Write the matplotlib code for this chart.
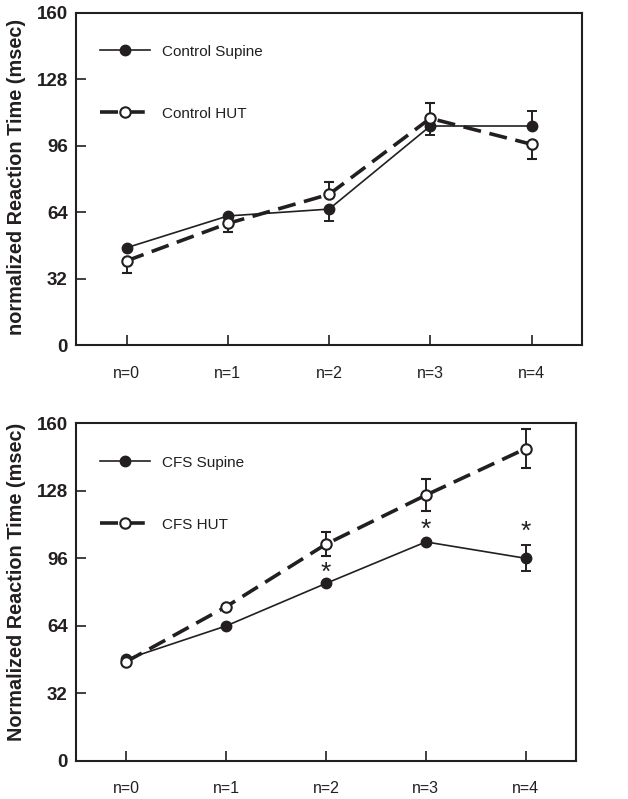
import matplotlib
matplotlib.use('Agg')
import matplotlib.pyplot as plt
from matplotlib.lines import Line2D
import numpy as np

plt.rcParams['font.family'] = ['Liberation Sans', 'DejaVu Sans']

labels = ['n=0', 'n=1', 'n=2', 'n=3', 'n=4']
yticks = [0, 32, 64, 96, 128, 160]

# top panel: control group
ctrl_supine = [46.9, 62.2, 65.5, 105.5, 105.5]
ctrl_supine_lo = [0, 0, 5.6, 4.3, 0]
ctrl_supine_hi = [0, 0, 0, 0, 7.3]
ctrl_hut = [40.6, 58.6, 72.6, 109.2, 96.7]
ctrl_hut_lo = [6.0, 4.0, 0, 0, 7.1]
ctrl_hut_hi = [0, 0, 6.0, 7.3, 0]

# bottom panel: CFS group
cfs_supine = [48.1, 63.9, 84.1, 103.8, 96.0]
cfs_supine_lo = [0, 0, 0, 0, 6.1]
cfs_supine_hi = [0, 0, 0, 0, 6.1]
cfs_hut = [46.9, 73.0, 102.7, 126.0, 148.1]
cfs_hut_lo = [0, 0, 5.7, 7.6, 9.2]
cfs_hut_hi = [0, 0, 5.7, 7.6, 9.2]
star_idx = [2, 3, 4]
star_y = [89.0, 109.6, 108.5]

ink = '#231f20'
x = np.arange(len(labels))

sup_style = dict(color=ink, lw=1.2, marker='o', ms=7.5, mfc=ink, mec=ink)
hut_style = dict(color=ink, lw=2.6, marker='o', ms=7.5, mfc='white', mec=ink,
                 mew=1.5, dashes=(5, 2.4))

fig = plt.figure(figsize=(6.28, 7.99), dpi=100)
ax1 = fig.add_axes([0.121, 0.568, 0.806, 0.416])
ax2 = fig.add_axes([0.121, 0.048, 0.796, 0.422])


def draw(ax, sup, sup_lo, sup_hi, hut, hut_lo, hut_hi, names, ylab, ylab_pos):
    ax.errorbar(x, sup, yerr=[sup_lo, sup_hi], capsize=3.5, elinewidth=1.4,
                capthick=1.4, zorder=3, **sup_style)
    ax.errorbar(x, hut, yerr=[hut_lo, hut_hi], capsize=3.5, elinewidth=1.4,
                capthick=1.4, zorder=4, **hut_style)
    ax.set_xlim(-0.5, 4.5)
    ax.set_ylim(0, 160)
    ax.set_xticks(x)
    ax.set_xticklabels(labels, fontsize=11.5, color=ink)
    ax.set_yticks(yticks)
    ax.set_yticklabels([str(t) for t in yticks], fontsize=13.5, fontweight='bold', color=ink)
    ax.tick_params(axis='both', direction='in', length=7, width=1.2, color=ink)
    ax.tick_params(axis='x', pad=15)
    ax.tick_params(axis='y', pad=6)
    for s in ax.spines.values():
        s.set_linewidth(1.5)
        s.set_color(ink)
    ax.set_ylabel(ylab, fontsize=14.3, fontweight='bold', color=ink)
    ax.yaxis.set_label_coords(ylab_pos[0], ylab_pos[1])
    handles = [Line2D([], [], **sup_style), Line2D([], [], **hut_style)]
    leg = ax.legend(handles, names, loc='upper left', bbox_to_anchor=(0.02, 0.945),
                    frameon=False, handlelength=3.3, handletextpad=0.75,
                    labelspacing=3.13, fontsize=11, numpoints=1)
    for t in leg.get_texts():
        t.set_color(ink)


draw(ax1, ctrl_supine, ctrl_supine_lo, ctrl_supine_hi, ctrl_hut, ctrl_hut_lo, ctrl_hut_hi,
     ['Control Supine', 'Control HUT'], 'normalized Reaction Time (msec)', (-0.098, 0.505))
draw(ax2, cfs_supine, cfs_supine_lo, cfs_supine_hi, cfs_hut, cfs_hut_lo, cfs_hut_hi,
     ['CFS Supine', 'CFS HUT'], 'Normalized Reaction Time (msec)', (-0.1, 0.53))

for i, yv in zip(star_idx, star_y):
    ax2.text(x[i], yv, '*', ha='center', va='center', fontsize=19, color=ink)

fig.savefig('out.png', dpi=100)
